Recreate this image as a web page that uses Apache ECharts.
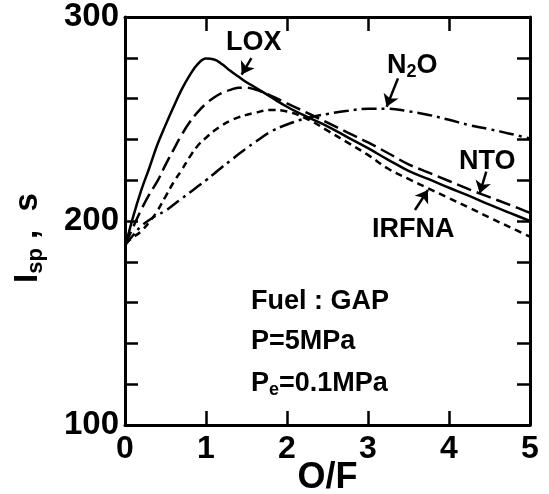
<!DOCTYPE html>
<html>
<head>
<meta charset="utf-8">
<script src="https://cdn.jsdelivr.net/npm/echarts@6/dist/echarts.min.js"></script>
<style>
  html, body { margin: 0; padding: 0; background: #fff; }
  #chart { width: 549px; height: 494px; }
</style>
</head>
<body>
<div id="chart"></div>
<script>
// O/F sample positions
const ofX = [0, 0.1, 0.2, 0.3, 0.4, 0.5, 0.6, 0.7, 0.8, 0.9, 1.0, 1.1, 1.2, 1.3, 1.4, 1.5, 1.6, 1.8,
  2.0, 2.25, 2.5, 2.75, 3.0, 3.25, 3.5, 3.75, 4.0, 4.25, 4.5, 4.75, 5.0]

// Isp values
const loxIsp = [187, 202, 215, 226, 237.5, 247, 256, 264.5, 271.5, 277, 279.6, 279.2, 276.8, 273.6, 270.8, 268, 265.7, 260.8,
  256, 251, 246.4, 241, 235.7, 230, 224.6, 220.5, 216.3, 212.3, 208, 204, 200]
const ntoIsp = [188, 197, 205.5, 213, 219.5, 227.5, 235, 242.3, 248.5, 253.5, 257.5, 260.5, 262.8, 264.3, 265.3, 265.4, 264.5, 261.5,
  257.7, 253, 248.2, 243.3, 238.5, 233.2, 227.8, 223.7, 219.6, 215.5, 211.7, 207.9, 204]
const irfnaIsp = [189, 192, 195, 199.5, 205, 212, 219, 225, 231.5, 237, 240.8, 244.2, 247, 249.2, 250.8, 252, 253, 254.4,
  253.7, 250, 244.3, 238.4, 232.4, 225.6, 220.6, 215.9, 211.2, 206.5, 201.7, 197, 192.3]
const n2oIsp = [188, 193, 197.5, 200.5, 203, 205, 208, 211, 214, 217, 220, 223.2, 226.5, 229.5, 232.7, 235.7, 238.5, 243.8,
  247.3, 250.5, 252.5, 254, 255, 255, 253.8, 252, 249.6, 247, 245, 242.8, 240.5]

// annotation arrows: [from, to] in O/F, Isp
const arrowLox = [[1.56, 279.8], [1.44, 271.8]]
const arrowN2o = [[3.37, 269.9], [3.23, 256]]
const arrowNto = [[4.46, 224.2], [4.38, 213.6]]
const arrowIrfna = [[3.58, 205.4], [3.74, 215.2]]

const yTicks = [100, 200, 300]

const font = 'Liberation Sans, Arial, sans-serif'
const black = '#000'

const myEchart = echarts.init(document.getElementById('chart'))

const toPairs = (vals) => ofX.map((x, i) => [x, vals[i]])

function lineSeries(name, vals, dash) {
  return {
    name: name,
    type: 'line',
    smooth: 0.4,
    symbol: 'none',
    silent: true,
    lineStyle: { color: black, width: 2.5, type: dash },
    data: toPairs(vals)
  }
}

const arrowLine = (a) => [{ coord: a[0] }, { coord: a[1] }]

const txt = (text, x, y, size, rich) => ({
  type: 'text',
  x: x,
  y: y,
  style: {
    text: text,
    font: 'bold ' + size + 'px ' + font,
    fill: black,
    textAlign: 'left',
    textVerticalAlign: 'middle',
    rich: rich
  }
})

const subRich = {
  a: { fontSize: 27, fontWeight: 'bold', fontFamily: font, color: black },
  s: { fontSize: 18, fontWeight: 'bold', fontFamily: font, color: black, verticalAlign: 'bottom', padding: [13, 0, 0, 0] }
}

const frameLine = { onZero: false, lineStyle: { color: black, width: 3 } }

let options = {
  animation: false,
  grid: { left: 125, right: 19, top: 17, bottom: 69, outerBoundsMode: 'none' },
  xAxis: [
    {
      type: 'value',
      min: 0,
      max: 5,
      interval: 1,
      name: 'O/F',
      nameLocation: 'middle',
      nameGap: 35,
      nameMoveOverlap: false,
      nameTextStyle: { fontSize: 36, fontWeight: 'bold', fontFamily: font, color: black },
      axisLine: frameLine,
      axisTick: { inside: true, length: 14, lineStyle: { color: black, width: 2.5 } },
      axisLabel: { fontSize: 32, fontWeight: 'bold', fontFamily: font, color: black, margin: 8 },
      splitLine: { show: false }
    },
    {
      type: 'value',
      position: 'top',
      min: 0,
      max: 5,
      interval: 1,
      axisLine: frameLine,
      axisTick: { inside: true, length: 14, lineStyle: { color: black, width: 2.5 } },
      axisLabel: { show: false },
      splitLine: { show: false }
    }
  ],
  yAxis: [
    {
      type: 'value',
      min: 100,
      max: 300,
      interval: 20,
      axisLine: frameLine,
      axisTick: { inside: true, length: 13, lineStyle: { color: black, width: 2.5 } },
      axisLabel: {
        fontSize: 33,
        fontWeight: 'bold',
        fontFamily: font,
        color: black,
        margin: 6,
        formatter: (v) => (yTicks.includes(v) ? String(v) : '')
      },
      splitLine: { show: false }
    },
    {
      type: 'value',
      position: 'right',
      min: 100,
      max: 300,
      interval: 20,
      axisLine: frameLine,
      axisTick: { inside: true, length: 13, lineStyle: { color: black, width: 2.5 } },
      axisLabel: { show: false },
      splitLine: { show: false }
    }
  ],
  series: [
    Object.assign(lineSeries('LOX', loxIsp, 'solid'), {
      markLine: {
        silent: true,
        symbol: ['none', 'arrow'],
        symbolSize: 12,
        label: { show: false },
        lineStyle: { color: black, width: 2.5, type: 'solid' },
        data: [arrowLine(arrowLox), arrowLine(arrowN2o), arrowLine(arrowNto), arrowLine(arrowIrfna)]
      }
    }),
    lineSeries('NTO', ntoIsp, [15, 6]),
    lineSeries('IRFNA', irfnaIsp, [7, 5]),
    lineSeries('N2O', n2oIsp, [15, 5, 3, 5])
  ],
  graphic: [
    txt('LOX', 226, 43, 27),
    txt('{a|N}{s|2}{a|O}', 387, 66, 27, subRich),
    txt('NTO', 459, 162, 27),
    txt('IRFNA', 372, 230, 27),
    txt('Fuel : GAP', 251, 302, 27),
    txt('P=5MPa', 251, 342, 27),
    txt('{a|P}{s|e}{a|=0.1MPa}', 251, 384, 27, subRich),
    {
      type: 'text',
      x: 28,
      y: 238,
      rotation: Math.PI / 2,
      style: {
        text: '{a|I}{s|sp}{a| ,  s}',
        fill: black,
        textAlign: 'center',
        textVerticalAlign: 'middle',
        rich: {
          a: { fontSize: 33, fontWeight: 'bold', fontFamily: font, color: black },
          s: { fontSize: 22, fontWeight: 'bold', fontFamily: font, color: black, verticalAlign: 'bottom', padding: [16, 0, 0, 0] }
        }
      }
    }
  ]
}
myEchart.setOption(options)
</script>
</body>
</html>
